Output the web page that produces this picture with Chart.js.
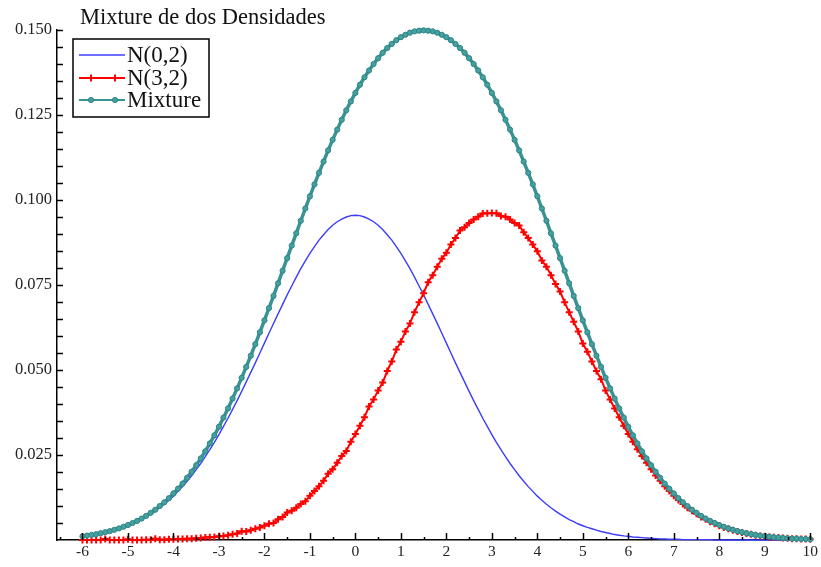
<!DOCTYPE html>
<html>
<head>
<meta charset="utf-8">
<title>Mixture de dos Densidades</title>
<script src="https://cdn.jsdelivr.net/npm/chart.js@4.4.1/dist/chart.umd.min.js"></script>
<style>
  html, body { margin: 0; padding: 0; background: #fff; }
  canvas { display: block; }
</style>
</head>
<body>
<canvas id="canvas" width="821" height="567"></canvas>
<script>
  //-----------------------
  // - MIXTURE OF TWO DENSITIES -
  //-----------------------

  const chartTitle = 'Mixture de dos Densidades';
  const seriesNames = ['N(0,2)', 'N(3,2)', 'Mixture'];

  // x grid shared by the three curves
  const xs = [
    -6.0, -5.9, -5.8, -5.7, -5.6, -5.5, -5.4, -5.3, -5.2, -5.1,
    -5.0, -4.9, -4.8, -4.7, -4.6, -4.5, -4.4, -4.3, -4.2, -4.1,
    -4.0, -3.9, -3.8, -3.7, -3.6, -3.5, -3.4, -3.3, -3.2, -3.1,
    -3.0, -2.9, -2.8, -2.7, -2.6, -2.5, -2.4, -2.3, -2.2, -2.1,
    -2.0, -1.9, -1.8, -1.7, -1.6, -1.5, -1.4, -1.3, -1.2, -1.1,
    -1.0, -0.9, -0.8, -0.7, -0.6, -0.5, -0.4, -0.3, -0.2, -0.1,
    0.0, 0.1, 0.2, 0.3, 0.4, 0.5, 0.6, 0.7, 0.8, 0.9,
    1.0, 1.1, 1.2, 1.3, 1.4, 1.5, 1.6, 1.7, 1.8, 1.9,
    2.0, 2.1, 2.2, 2.3, 2.4, 2.5, 2.6, 2.7, 2.8, 2.9,
    3.0, 3.1, 3.2, 3.3, 3.4, 3.5, 3.6, 3.7, 3.8, 3.9,
    4.0, 4.1, 4.2, 4.3, 4.4, 4.5, 4.6, 4.7, 4.8, 4.9,
    5.0, 5.1, 5.2, 5.3, 5.4, 5.5, 5.6, 5.7, 5.8, 5.9,
    6.0, 6.1, 6.2, 6.3, 6.4, 6.5, 6.6, 6.7, 6.8, 6.9,
    7.0, 7.1, 7.2, 7.3, 7.4, 7.5, 7.6, 7.7, 7.8, 7.9,
    8.0, 8.1, 8.2, 8.3, 8.4, 8.5, 8.6, 8.7, 8.8, 8.9,
    9.0, 9.1, 9.2, 9.3, 9.4, 9.5, 9.6, 9.7, 9.8, 9.9,
    10.0
  ];

  // N(0,2) - plain blue line
  const densN0 = [
    0.0011, 0.0012, 0.0014, 0.0016, 0.0019, 0.0022, 0.0025, 0.0029, 0.0033, 0.0037,
    0.0042, 0.0047, 0.0054, 0.0060, 0.0068, 0.0076, 0.0085, 0.0095, 0.0105, 0.0117,
    0.0129, 0.0143, 0.0157, 0.0173, 0.0189, 0.0207, 0.0225, 0.0245, 0.0266, 0.0287,
    0.0310, 0.0334, 0.0358, 0.0384, 0.0410, 0.0437, 0.0465, 0.0493, 0.0521, 0.0550,
    0.0579, 0.0608, 0.0637, 0.0665, 0.0693, 0.0721, 0.0747, 0.0773, 0.0798, 0.0821,
    0.0843, 0.0863, 0.0882, 0.0898, 0.0913, 0.0926, 0.0936, 0.0944, 0.0950, 0.0954,
    0.0955, 0.0954, 0.0950, 0.0944, 0.0936, 0.0926, 0.0913, 0.0898, 0.0882, 0.0863,
    0.0843, 0.0821, 0.0798, 0.0773, 0.0747, 0.0721, 0.0693, 0.0665, 0.0637, 0.0608,
    0.0579, 0.0550, 0.0521, 0.0493, 0.0465, 0.0437, 0.0410, 0.0384, 0.0358, 0.0334,
    0.0310, 0.0287, 0.0266, 0.0245, 0.0225, 0.0207, 0.0189, 0.0173, 0.0157, 0.0143,
    0.0129, 0.0117, 0.0105, 0.0095, 0.0085, 0.0076, 0.0068, 0.0060, 0.0054, 0.0047,
    0.0042, 0.0037, 0.0033, 0.0029, 0.0025, 0.0022, 0.0019, 0.0016, 0.0014, 0.0012,
    0.0011, 0.0009, 0.0008, 0.0007, 0.0006, 0.0005, 0.0004, 0.0003, 0.0003, 0.0002,
    0.0002, 0.0002, 0.0001, 0.0001, 0.0001, 0.0001, 0.0001, 0.0001, 0.0001, 0,
    0, 0, 0, 0, 0, 0, 0, 0, 0, 0,
    0, 0, 0, 0, 0, 0, 0, 0, 0, 0,
    0
  ];

  // N(3,2) - red, simulated so a bit noisy
  const densN3 = [
    0, 0, 0, 0, 0, 0.0003, 0, 0, 0, 0,
    0.0002, 0, 0, 0, 0.0001, 0.0001, 0.0004, 0.0001, 0.0001, 0.0002,
    0.0002, 0.0003, 0.0003, 0.0004, 0.0004, 0.0005, 0.0006, 0.0007, 0.0008, 0.0009,
    0.0011, 0.0012, 0.0014, 0.0017, 0.0019, 0.0026, 0.0025, 0.0029, 0.0033, 0.0037,
    0.0042, 0.0048, 0.0050, 0.0061, 0.0068, 0.0081, 0.0086, 0.0095, 0.0106, 0.0114,
    0.0130, 0.0144, 0.0158, 0.0174, 0.0195, 0.0208, 0.0227, 0.0247, 0.0262, 0.0289,
    0.0312, 0.0336, 0.0361, 0.0393, 0.0413, 0.0440, 0.0463, 0.0497, 0.0525, 0.0560,
    0.0583, 0.0613, 0.0637, 0.0670, 0.0699, 0.0726, 0.0758, 0.0779, 0.0804, 0.0827,
    0.0845, 0.0869, 0.0888, 0.0910, 0.0920, 0.0932, 0.0943, 0.0951, 0.0960, 0.0961,
    0.0962, 0.0961, 0.0953, 0.0951, 0.0943, 0.0932, 0.0925, 0.0905, 0.0888, 0.0869,
    0.0849, 0.0822, 0.0804, 0.0779, 0.0753, 0.0731, 0.0699, 0.0670, 0.0642, 0.0613,
    0.0578, 0.0554, 0.0525, 0.0497, 0.0473, 0.0440, 0.0413, 0.0387, 0.0361, 0.0336,
    0.0312, 0.0289, 0.0267, 0.0247, 0.0227, 0.0208, 0.0190, 0.0174, 0.0158, 0.0144,
    0.0130, 0.0118, 0.0106, 0.0095, 0.0086, 0.0077, 0.0068, 0.0061, 0.0054, 0.0048,
    0.0042, 0.0037, 0.0033, 0.0029, 0.0025, 0.0022, 0.0019, 0.0017, 0.0014, 0.0012,
    0.0011, 0.0009, 0.0008, 0.0007, 0.0006, 0.0005, 0.0004, 0.0004, 0.0003, 0.0003,
    0.0002
  ];

  // Mixture - teal
  const densMix = [
    0.0011, 0.0013, 0.0015, 0.0017, 0.0020, 0.0023, 0.0026, 0.0030, 0.0034, 0.0039,
    0.0044, 0.0050, 0.0056, 0.0063, 0.0071, 0.0080, 0.0089, 0.0100, 0.0111, 0.0123,
    0.0137, 0.0151, 0.0166, 0.0183, 0.0201, 0.0220, 0.0240, 0.0261, 0.0284, 0.0308,
    0.0333, 0.0360, 0.0387, 0.0416, 0.0446, 0.0477, 0.0509, 0.0542, 0.0576, 0.0611,
    0.0646, 0.0682, 0.0718, 0.0755, 0.0792, 0.0829, 0.0866, 0.0902, 0.0939, 0.0975,
    0.1011, 0.1046, 0.1080, 0.1113, 0.1146, 0.1177, 0.1207, 0.1236, 0.1264, 0.1290,
    0.1315, 0.1339, 0.1361, 0.1381, 0.1400, 0.1417, 0.1433, 0.1447, 0.1459, 0.1470,
    0.1479, 0.1486, 0.1492, 0.1496, 0.1498, 0.1499, 0.1498, 0.1496, 0.1492, 0.1486,
    0.1479, 0.1470, 0.1459, 0.1447, 0.1433, 0.1417, 0.1400, 0.1381, 0.1361, 0.1339,
    0.1315, 0.1290, 0.1264, 0.1236, 0.1207, 0.1177, 0.1146, 0.1113, 0.1080, 0.1046,
    0.1011, 0.0975, 0.0939, 0.0902, 0.0866, 0.0829, 0.0792, 0.0755, 0.0718, 0.0682,
    0.0646, 0.0611, 0.0576, 0.0542, 0.0509, 0.0477, 0.0446, 0.0416, 0.0387, 0.0360,
    0.0333, 0.0308, 0.0284, 0.0261, 0.0240, 0.0220, 0.0201, 0.0183, 0.0166, 0.0151,
    0.0137, 0.0123, 0.0111, 0.0100, 0.0089, 0.0080, 0.0071, 0.0063, 0.0056, 0.0050,
    0.0044, 0.0039, 0.0034, 0.0030, 0.0026, 0.0023, 0.0020, 0.0017, 0.0015, 0.0013,
    0.0011, 0.0010, 0.0008, 0.0007, 0.0006, 0.0005, 0.0004, 0.0004, 0.0003, 0.0003,
    0.0002
  ];

  const serif = "'Liberation Serif', 'Times New Roman', serif";
  const toPoints = (ys) => xs.map((x, i) => ({ x: x, y: ys[i] }));

  // short tick marks pointing into the plot area
  const innerTicks = {
    id: 'innerTicks',
    afterDraw(chart) {
      const { ctx, chartArea, scales } = chart;
      ctx.save();
      ctx.strokeStyle = '#000';
      ctx.lineWidth = 1.5;
      ctx.beginPath();
      for (let k = 1; k <= 30; k++) {
        const py = Math.round(scales.y.getPixelForValue(k * 0.005)) + 0.5;
        ctx.moveTo(chartArea.left, py);
        ctx.lineTo(chartArea.left + 6, py);
      }
      for (let k = -13; k <= 20; k++) {
        const v = k / 2;
        const px = Math.round(scales.x.getPixelForValue(v)) + 0.5;
        if (px <= chartArea.left + 2) continue;
        const len = (k % 2 === 0) ? 7 : 3;
        ctx.moveTo(px, chartArea.bottom);
        ctx.lineTo(px, chartArea.bottom - len);
      }
      ctx.stroke();
      ctx.restore();
    }
  };

  // title and boxed legend in the upper left corner
  const titleAndLegend = {
    id: 'titleAndLegend',
    afterDraw(chart) {
      const ctx = chart.ctx;
      ctx.save();
      ctx.fillStyle = '#111';
      ctx.font = '22.5px ' + serif;
      ctx.textBaseline = 'alphabetic';
      ctx.fillText(chartTitle, 80, 24);

      ctx.fillStyle = '#fff';
      ctx.fillRect(73, 39, 136, 78);
      ctx.strokeStyle = '#000';
      ctx.lineWidth = 1.5;
      ctx.strokeRect(73, 39, 136, 78);

      const rows = [55, 78, 100];
      chart.data.datasets.forEach((ds, i) => {
        const y = rows[i];
        ctx.strokeStyle = ds.borderColor;
        ctx.lineWidth = Math.min(ds.borderWidth, 2);
        ctx.beginPath();
        ctx.moveTo(79, y);
        ctx.lineTo(125, y);
        ctx.stroke();
        if (ds.pointRadius > 0) {
          ctx.fillStyle = ds.pointBackgroundColor;
          ctx.strokeStyle = ds.pointBorderColor;
          ctx.lineWidth = ds.pointBorderWidth;
          [91, 115].forEach(px => {
            Chart.helpers.drawPoint(ctx, {
              pointStyle: ds.pointStyle, radius: ds.pointRadius, rotation: 0, borderWidth: ds.pointBorderWidth
            }, px, y);
          });
        }
        ctx.fillStyle = '#111';
        ctx.font = '23px ' + serif;
        ctx.textBaseline = 'middle';
        ctx.fillText(ds.label, 127, y + 1);
      });
      ctx.restore();
    }
  };

  const ctx = document.getElementById('canvas').getContext('2d');

  const myChart = new Chart(ctx, {
    type: 'line',
    data: {
      datasets: [{
        label: seriesNames[0],
        data: toPoints(densN0),
        borderColor: '#3c3cff',
        borderWidth: 1.4,
        pointRadius: 0,
        order: 2
      },
      {
        label: seriesNames[1],
        data: toPoints(densN3),
        borderColor: '#ff0000',
        borderWidth: 2,
        pointStyle: 'cross',
        pointRadius: 3.5,
        pointBackgroundColor: '#ff0000',
        pointBorderColor: '#ff0000',
        pointBorderWidth: 2,
        order: 1
      },
      {
        label: seriesNames[2],
        data: toPoints(densMix),
        borderColor: '#3a9393',
        borderWidth: 3.5,
        pointStyle: 'circle',
        pointRadius: 2.6,
        pointBackgroundColor: '#45a0a0',
        pointBorderColor: '#2f8585',
        pointBorderWidth: 1,
        order: 0
      }]
    },
    options: {
      responsive: false,
      animation: false,
      clip: false,
      layout: { padding: { top: 30, right: 10, left: 0, bottom: 0 } },
      plugins: {
        legend: { display: false },
        title: { display: false },
        tooltip: { enabled: false }
      },
      scales: {
        x: {
          type: 'linear',
          min: -6.56,
          max: 10,
          grid: { display: false, drawTicks: false },
          border: { display: true, color: '#000', width: 1.5 },
          ticks: {
            stepSize: 1,
            includeBounds: false,
            autoSkip: false,
            maxRotation: 0,
            padding: 3,
            color: '#222',
            font: { family: serif, size: 15.5 },
            callback: (v) => Number.isInteger(v) ? String(v) : ''
          },
          afterFit(scale) { scale.height = 27; }
        },
        y: {
          min: 0,
          max: 0.15,
          grid: { display: false, drawTicks: false },
          border: { display: true, color: '#000', width: 1.5 },
          ticks: {
            stepSize: 0.025,
            padding: 5,
            color: '#222',
            font: { family: serif, size: 16.5 },
            callback: (v) => v === 0 ? '' : v.toFixed(3)
          },
          afterFit(scale) { scale.width = 57; }
        }
      }
    },
    plugins: [innerTicks, titleAndLegend]
  });
</script>
</body>
</html>
